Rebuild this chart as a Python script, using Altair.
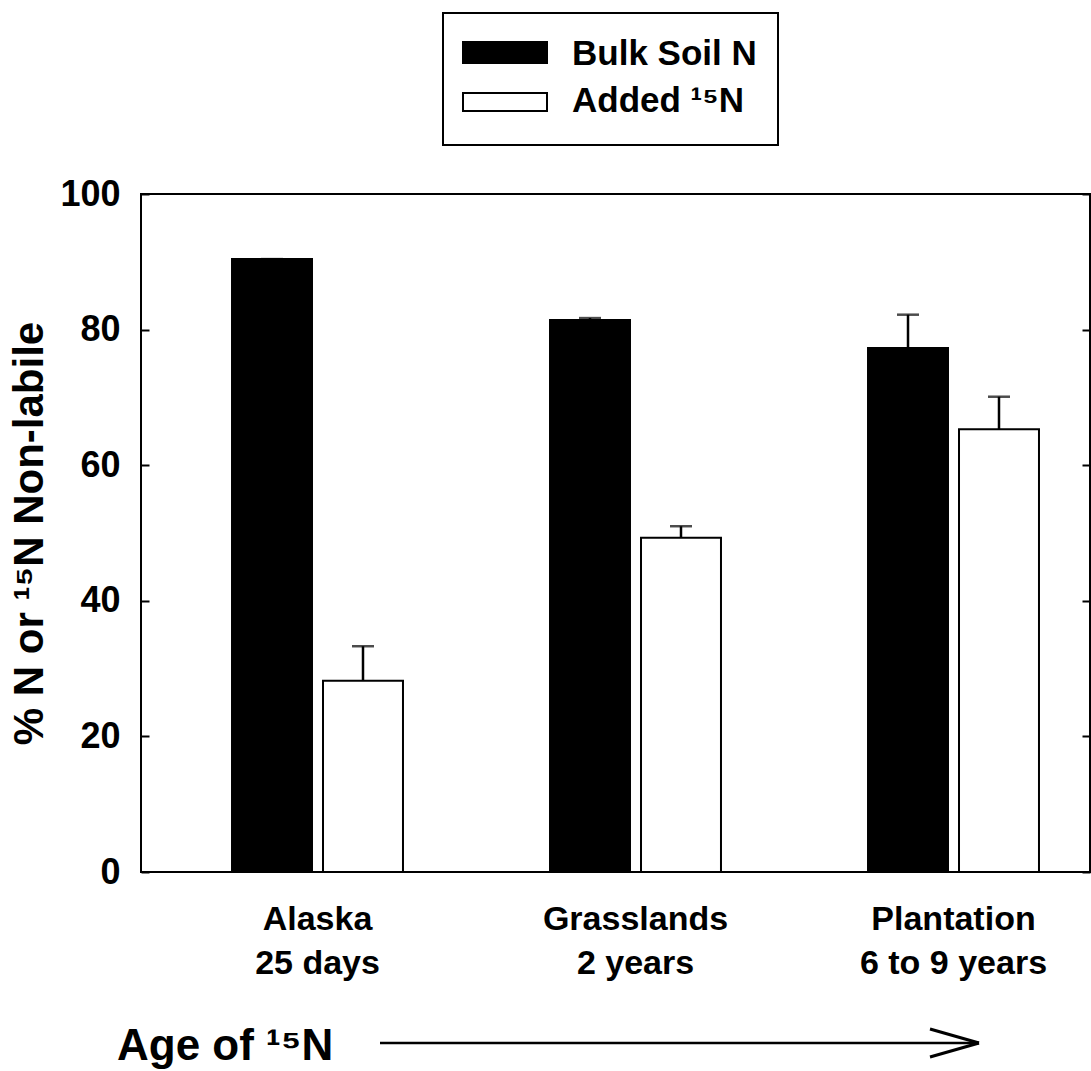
import altair as alt
import pandas as pd

groups = ["Alaska|25 days", "Grasslands|2 years", "Plantation|6 to 9 years"]
series = ["Bulk Soil N", "Added ¹⁵N"]
bulk = [90.4, 81.4, 77.3]
bulk_upper = [90.4, 81.7, 82.2]
added = [28.2, 49.3, 65.3]
added_upper = [33.3, 51.0, 70.1]
y_ticks = [0, 20, 40, 60, 80, 100]

rows = []
for g, v, u in zip(groups, bulk, bulk_upper):
    rows.append({"group": g, "series": series[0], "value": v, "upper": u})
for g, v, u in zip(groups, added, added_upper):
    rows.append({"group": g, "series": series[1], "value": v, "upper": u})
df = pd.DataFrame(rows)

FONT = "Liberation Sans"

x_enc = alt.X(
    "group:N",
    sort=groups,
    scale=alt.Scale(range=[17.5, 971.5], paddingInner=0, paddingOuter=0),
    axis=alt.Axis(
        title="",
        ticks=False,
        domain=False,
        labelExpr="split(datum.value, '|')",
        labelFont=FONT,
        labelFontSize=34,
        labelFontWeight="bold",
        labelColor="black",
        labelLineHeight=44,
        labelPadding=30,
        labelAngle=0,
        labelLimit=0,
    ),
)
xoff_enc = alt.XOffset(
    "series:N", sort=series,
    scale=alt.Scale(domain=series, paddingInner=0.121, paddingOuter=0.808),
)
y_scale = alt.Scale(domain=[0, 100], nice=False)

left_axis = alt.Axis(
    title="% N or ¹⁵N Non-labile",
    values=y_ticks,
    orient="left",
    offset=-8,
    tickSize=8,
    tickWidth=2,
    tickColor="black",
    domain=False,
    grid=False,
    labelFont=FONT,
    labelFontSize=36,
    labelFontWeight="bold",
    labelColor="black",
    labelPadding=21,
    titleFont=FONT,
    titleFontSize=42,
    titleFontWeight="bold",
    titleColor="black",
    titlePadding=8,
)
right_axis = alt.Axis(
    title="",
    values=y_ticks,
    orient="right",
    offset=-8,
    tickSize=8,
    tickWidth=2,
    tickColor="black",
    domain=False,
    grid=False,
    labels=False,
)

bars = alt.Chart(df).mark_bar(stroke="black", strokeWidth=2).encode(
    x=x_enc,
    xOffset=xoff_enc,
    y=alt.Y("value:Q", scale=y_scale, axis=left_axis),
    fill=alt.Fill("series:N", sort=series,
                  scale=alt.Scale(domain=series, range=["black", "white"]),
                  legend=None),
)

right = alt.Chart(df).mark_rule(opacity=0).encode(
    x=x_enc,
    xOffset=xoff_enc,
    y=alt.Y("value:Q", scale=y_scale, axis=right_axis),
)

err = alt.Chart(df).mark_rule(color="black", strokeWidth=2.5).encode(
    x=x_enc,
    xOffset=xoff_enc,
    y=alt.Y("value:Q", scale=y_scale, axis=None),
    y2="upper:Q",
)
caps = alt.Chart(df).mark_tick(color="black", thickness=2.5, size=22).encode(
    x=x_enc,
    xOffset=xoff_enc,
    y=alt.Y("upper:Q", scale=y_scale, axis=None),
)

one = alt.Data(values=[{"k": 1}])

# legend box and entries
legend_layers = [
    alt.Chart(one).mark_rect(fill="white", stroke="black", strokeWidth=2).encode(
        x=alt.value(302), x2=alt.value(637), y=alt.value(-181), y2=alt.value(-49)
    )
]
sw_y = [(-152, -131), (-101, -83)]
txt_y = [-129, -82]
fills = ["black", "white"]
for name, (y1, y2), ty, f in zip(series, sw_y, txt_y, fills):
    legend_layers.append(
        alt.Chart(one).mark_rect(fill=f, stroke="black", strokeWidth=2).encode(
            x=alt.value(322), x2=alt.value(406), y=alt.value(y1), y2=alt.value(y2)
        )
    )
    legend_layers.append(
        alt.Chart(one).mark_text(
            text=name, font=FONT, fontSize=35, fontWeight="bold",
            align="left", baseline="alphabetic", color="black",
        ).encode(x=alt.value(431), y=alt.value(ty))
    )

age_text = alt.Chart(one).mark_text(
    text="Age of ¹⁵N", font=FONT, fontSize=44, fontWeight="bold",
    align="left", baseline="alphabetic", color="black",
).encode(x=alt.value(-24), y=alt.value(866))

arrow_line = alt.Chart(one).mark_rule(color="black", strokeWidth=2.5).encode(
    x=alt.value(239), x2=alt.value(838), y=alt.value(849), y2=alt.value(849)
)
arrow_up = alt.Chart(one).mark_rule(color="black", strokeWidth=3).encode(
    x=alt.value(789), x2=alt.value(838), y=alt.value(835), y2=alt.value(849)
)
arrow_dn = alt.Chart(one).mark_rule(color="black", strokeWidth=3).encode(
    x=alt.value(789), x2=alt.value(838), y=alt.value(863), y2=alt.value(849)
)

chart = alt.layer(
    bars, right, err, caps, *legend_layers, age_text, arrow_line, arrow_up, arrow_dn
).resolve_axis(y="independent").properties(
    width=949,
    height=678,
    padding={"left": 141, "top": 194, "right": 1, "bottom": 199},
    autosize=alt.AutoSizeParams(type="none"),
    background="white",
).configure_view(stroke="black", strokeWidth=2)

chart.save("out.html", embed_options={"renderer": "svg", "actions": False})
